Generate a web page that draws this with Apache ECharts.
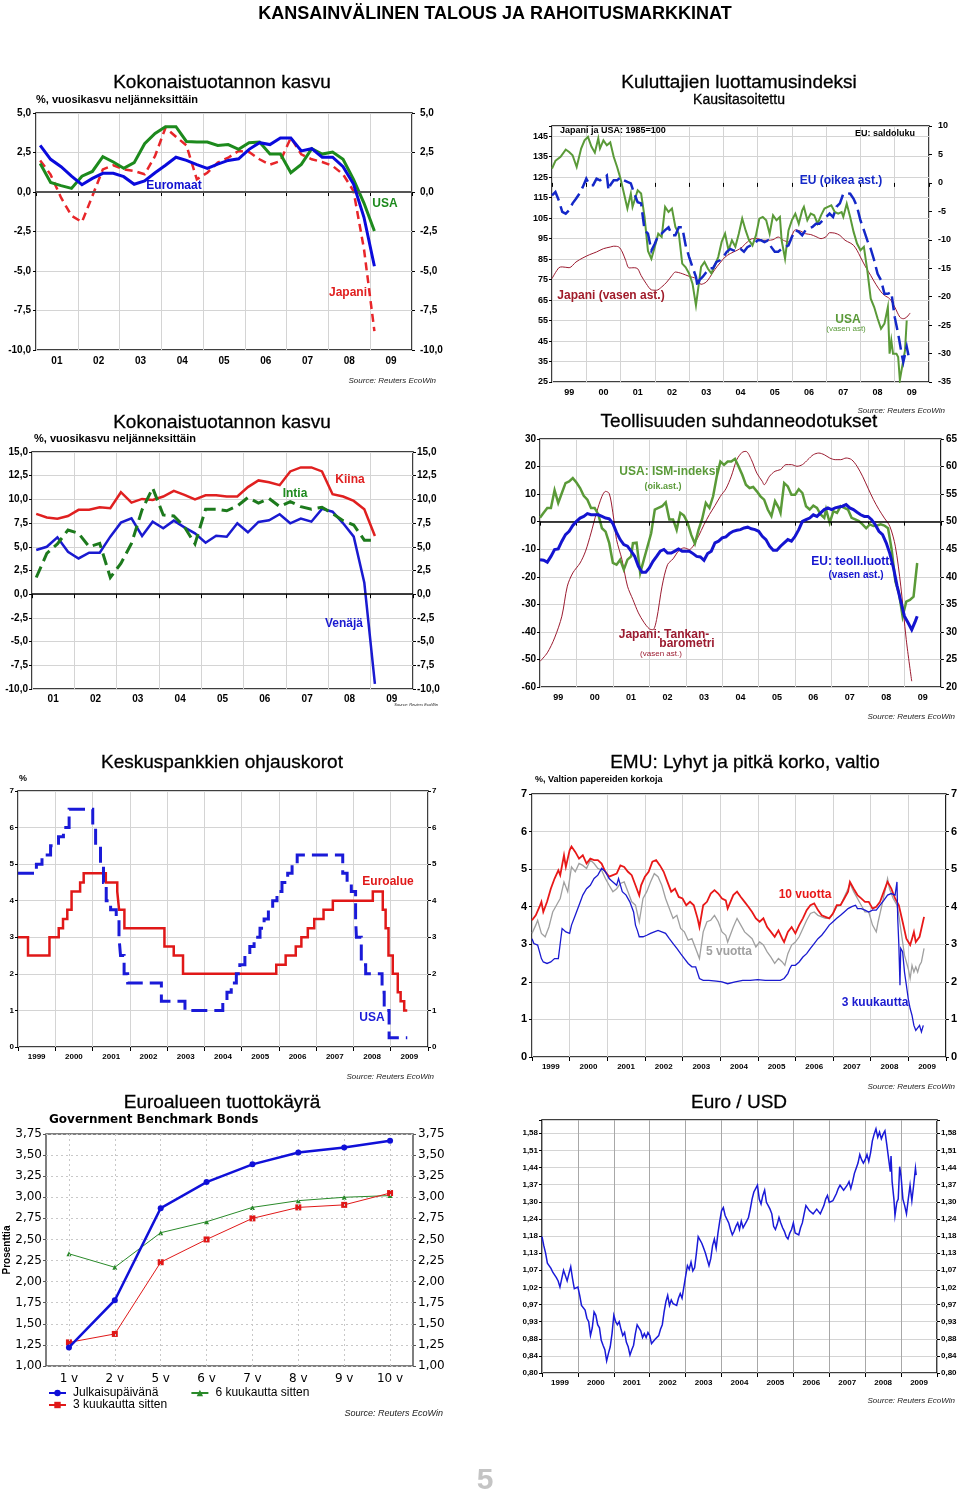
<!DOCTYPE html>
<html><head><meta charset="utf-8">
<script src="https://cdn.jsdelivr.net/npm/echarts/dist/echarts.min.js"></script>
<style>html,body{margin:0;padding:0;background:#fff}#c{width:960px;height:1494px}</style>
</head><body><div id="c"></div>
<script>
// ---------- DATA ----------
// Panel 1: GDP growth, quarterly from 2001Q1
const gdpEuromaat = [2.95,2.07,1.6,1.0,0.46,0.86,1.18,1.18,0.97,0.49,0.7,1.22,1.69,2.2,2.0,1.73,1.5,1.77,2.0,2.1,2.7,3.12,3.0,3.42,3.42,2.6,2.74,2.2,2.2,1.6,0.5,-1.6,-4.7];
const gdpUSA = [1.8,0.6,0.4,0.23,1.0,1.3,2.24,1.9,1.5,1.86,3.06,3.7,4.13,4.13,3.2,3.16,3.16,2.95,3.0,2.7,3.12,3.16,2.4,2.4,1.22,1.75,2.74,2.4,2.53,2.07,0.8,-0.7,-2.47];
const gdpJapani = [2.0,1.1,-0.36,-1.5,-1.9,-0.25,1.43,1.69,1.43,1.33,1.12,2.28,4.07,3.5,2.95,0.8,1.22,1.86,2.17,2.6,2.53,2.07,1.73,1.96,3.44,2.38,2.07,1.9,1.65,1.12,0.06,-3.6,-8.8];
// Panel 3
const gdpKiina = [8.47,8.1,7.97,8.25,8.9,8.9,9.17,9.07,10.76,9.66,10.05,9.95,10.3,10.9,10.48,10.0,10.44,10.44,10.3,10.3,11.3,12.0,11.8,11.5,12.95,13.37,13.37,12.95,10.55,10.3,9.84,8.96,6.14];
const gdpIntia = [1.76,4.3,5.3,6.77,6.42,5.0,5.36,1.76,3.25,5.36,8.9,11.2,8.36,8.25,7.1,5.3,8.96,8.96,8.8,9.3,10.2,9.6,10.1,9.24,9.77,9.24,8.96,9.17,8.5,7.76,7.3,5.7,5.7];
const gdpVenaja = [4.66,5.0,6.0,4.48,3.77,4.37,4.37,6.07,7.55,8.0,6.14,7.65,6.95,7.76,7.05,6.42,5.43,6.17,6.07,7.48,6.53,7.62,7.8,8.43,7.48,7.97,7.65,9.0,8.7,7.48,6.07,1.2,-9.45];
const gdpFirstQuarter = 2001.1;

// Panel 2: consumer confidence [decimal year, value]
const confUSA = [[1999.0,129.2],[1999.1,133],[1999.25,135],[1999.4,138.5],[1999.5,137.3],[1999.6,135.7],[1999.72,130],[1999.85,139],[1999.95,143],[2000.05,144.7],[2000.15,140],[2000.25,137],[2000.35,144],[2000.4,139],[2000.5,143],[2000.6,140.6],[2000.7,142],[2000.8,135],[2000.9,130],[2001.0,124.3],[2001.1,117],[2001.2,109.7],[2001.3,117],[2001.35,110.5],[2001.5,118.6],[2001.6,117],[2001.7,105.6],[2001.8,89],[2001.9,85.2],[2002.0,91],[2002.1,97.4],[2002.2,95.8],[2002.3,110.5],[2002.4,108],[2002.5,109.7],[2002.6,100.7],[2002.7,97.4],[2002.8,82.8],[2002.9,81],[2003.0,78],[2003.1,73],[2003.2,62.4],[2003.25,61.6],[2003.35,81.2],[2003.45,83.6],[2003.55,80.3],[2003.65,78],[2003.75,82],[2003.85,86],[2003.95,93.4],[2004.05,97.4],[2004.15,89.3],[2004.25,94.2],[2004.35,91],[2004.45,97.4],[2004.55,104.8],[2004.65,99],[2004.75,94.2],[2004.85,91.7],[2004.95,96.6],[2005.05,104.8],[2005.15,105.6],[2005.25,104],[2005.35,97.4],[2005.45,106.4],[2005.55,104],[2005.65,105.6],[2005.7,94.2],[2005.8,85.2],[2005.9,99],[2006.0,104],[2006.1,107.2],[2006.2,102.3],[2006.3,108.8],[2006.35,110.5],[2006.45,104],[2006.55,107.2],[2006.65,106.4],[2006.75,102.3],[2006.85,106.4],[2006.95,109.7],[2007.05,110.5],[2007.15,111.3],[2007.25,108],[2007.35,107.2],[2007.45,108],[2007.5,105.6],[2007.6,112],[2007.7,105.6],[2007.8,98.3],[2007.9,92.6],[2008.0,89.3],[2008.1,91],[2008.2,79.5],[2008.3,65.7],[2008.4,61.6],[2008.5,56],[2008.6,51],[2008.7,53.5],[2008.8,61.6],[2008.85,38.8],[2008.9,45.3],[2008.95,38.8],[2009.05,38.8],[2009.1,37.2],[2009.15,26],[2009.2,26.6],[2009.3,40.4],[2009.35,55]];
const confEU = [[1999.0,-2.2],[1999.1,-1.6],[1999.2,-3.1],[1999.3,-5.1],[1999.4,-5.4],[1999.5,-4.8],[1999.6,-3.6],[1999.7,-2.8],[1999.8,-1.9],[1999.9,-0.7],[2000.0,0.74],[2000.1,-0.4],[2000.2,-0.4],[2000.3,0.74],[2000.4,0.45],[2000.5,0.74],[2000.6,1.3],[2000.65,-1.3],[2000.7,-0.4],[2000.8,0.45],[2000.9,0.45],[2001.0,1.0],[2001.1,0.45],[2001.2,0.16],[2001.3,-0.1],[2001.4,-1.9],[2001.5,-3.4],[2001.6,-3.6],[2001.7,-8.3],[2001.8,-8.9],[2001.9,-11.9],[2002.0,-10.7],[2002.1,-9.2],[2002.2,-8.9],[2002.3,-8.3],[2002.4,-7.8],[2002.5,-9.2],[2002.6,-9.2],[2002.7,-7.8],[2002.8,-7.8],[2002.9,-11],[2003.0,-13],[2003.1,-14.8],[2003.2,-16.5],[2003.25,-18.3],[2003.3,-17.1],[2003.4,-16.5],[2003.5,-15.7],[2003.6,-15],[2003.7,-15],[2003.8,-13.9],[2003.9,-13.6],[2004.0,-13],[2004.1,-12.1],[2004.2,-11.6],[2004.3,-11.9],[2004.4,-11.9],[2004.5,-11.6],[2004.6,-12.1],[2004.7,-11.3],[2004.8,-11],[2004.9,-10.7],[2005.0,-10.1],[2005.1,-10.1],[2005.2,-10.4],[2005.3,-10.1],[2005.4,-11.3],[2005.5,-12.1],[2005.6,-12.1],[2005.7,-11.6],[2005.8,-11.3],[2005.9,-11],[2006.0,-9.5],[2006.1,-8.3],[2006.2,-8.6],[2006.3,-9.2],[2006.4,-8.3],[2006.5,-8],[2006.6,-7.75],[2006.7,-7.2],[2006.8,-7.2],[2006.9,-6.6],[2007.0,-6],[2007.1,-5.4],[2007.2,-6],[2007.3,-4.2],[2007.4,-3.6],[2007.5,-1.9],[2007.6,-1.8],[2007.7,-1.9],[2007.8,-2.8],[2007.9,-4.2],[2008.0,-6.6],[2008.1,-8.3],[2008.2,-10.1],[2008.3,-11.6],[2008.4,-13.6],[2008.5,-16],[2008.6,-17.1],[2008.7,-19.5],[2008.8,-19.5],[2008.9,-19.2],[2009.0,-23.6],[2009.1,-26.5],[2009.2,-30],[2009.25,-31.5],[2009.3,-31.8],[2009.35,-28.8],[2009.4,-30.3]];
const confJapani = [[1999.0,75.5],[1999.2,80.8],[1999.3,81.2],[1999.5,80.8],[1999.7,83.6],[1999.9,85.6],[2000.1,87.2],[2000.3,88.5],[2000.5,90.1],[2000.7,90.9],[2000.8,91.3],[2000.95,90.9],[2001.05,88.5],[2001.15,84.4],[2001.25,80.7],[2001.4,80.8],[2001.5,80.3],[2001.6,77],[2001.75,73],[2001.9,70],[2002.05,69.8],[2002.2,71.4],[2002.35,73.8],[2002.5,77],[2002.6,78.7],[2002.8,77.9],[2003.0,76.6],[2003.2,75.5],[2003.35,72.7],[2003.5,73.8],[2003.6,76],[2003.75,79.9],[2003.9,83.1],[2004.05,86],[2004.2,87.7],[2004.4,89.3],[2004.55,90.9],[2004.7,93.4],[2004.85,95],[2005.0,95],[2005.15,94.2],[2005.3,94.2],[2005.45,94.5],[2005.6,95.8],[2005.75,94.2],[2005.9,93.4],[2006.0,96.6],[2006.1,99.3],[2006.25,98.7],[2006.4,97.4],[2006.55,97],[2006.7,96],[2006.85,95],[2007.0,96],[2007.1,97.9],[2007.25,97.7],[2007.4,96.6],[2007.55,94.2],[2007.7,92.9],[2007.8,91.7],[2007.9,89.3],[2008.0,86],[2008.15,81.2],[2008.3,77],[2008.45,72.7],[2008.6,69],[2008.7,67.3],[2008.85,65.7],[2009.0,61.6],[2009.15,56.7],[2009.25,55.9],[2009.35,56.7],[2009.45,58.7]];

// Panel 4: industrial outlook
const indISM = [[1999.0,50.7],[1999.1,51.6],[1999.2,52.5],[1999.3,52.5],[1999.4,55.7],[1999.5,53.4],[1999.6,55.2],[1999.7,57],[1999.8,57.3],[1999.9,57.9],[2000.0,57.1],[2000.1,56.1],[2000.2,54.7],[2000.3,54],[2000.4,52.5],[2000.5,52.5],[2000.6,51.3],[2000.7,48.8],[2000.8,48.2],[2000.9,46.1],[2001.0,42.5],[2001.1,42.2],[2001.2,43.1],[2001.3,41.3],[2001.4,43.1],[2001.5,43.7],[2001.55,46.1],[2001.65,46.2],[2001.75,40.7],[2001.85,43.1],[2001.95,45.5],[2002.05,47.9],[2002.15,52.2],[2002.25,52.5],[2002.35,52.8],[2002.45,53.5],[2002.55,50.4],[2002.65,50.4],[2002.75,48.5],[2002.85,51.6],[2002.95,51.1],[2003.05,49.8],[2003.15,47.6],[2003.25,46],[2003.35,48.5],[2003.45,50.5],[2003.55,53.4],[2003.65,52.5],[2003.75,54.6],[2003.85,58.2],[2003.95,60.9],[2004.05,60.3],[2004.15,60.9],[2004.25,60.9],[2004.35,61.4],[2004.45,60],[2004.55,58.5],[2004.65,56.7],[2004.75,56.1],[2004.85,56.3],[2004.95,55.5],[2005.05,54.6],[2005.15,54],[2005.25,52.2],[2005.35,51],[2005.45,53.7],[2005.55,52.5],[2005.6,51.6],[2005.7,57],[2005.8,56.4],[2005.9,54.9],[2006.0,54.9],[2006.1,55.9],[2006.2,55.2],[2006.3,52.8],[2006.4,52.2],[2006.5,52.9],[2006.6,52.5],[2006.7,51.3],[2006.8,50.7],[2006.85,52.2],[2006.95,49.8],[2007.05,51.9],[2007.15,51.6],[2007.25,52.8],[2007.35,52.5],[2007.45,52.2],[2007.55,50.7],[2007.65,50.4],[2007.75,50.1],[2007.85,49.5],[2007.95,48.8],[2008.05,49.5],[2008.15,49.2],[2008.25,49.3],[2008.35,49.5],[2008.45,49.3],[2008.55,48.8],[2008.65,44.9],[2008.75,39.2],[2008.85,37],[2008.95,32.8],[2009.05,35.5],[2009.15,35.8],[2009.25,36.4],[2009.35,42.5]];
const indEU = [[1999.0,-13.8],[1999.1,-14],[1999.2,-14.7],[1999.3,-12.6],[1999.4,-10.1],[1999.5,-9.9],[1999.6,-7.1],[1999.7,-4.7],[1999.8,-3.5],[1999.9,-1.4],[2000.0,0.1],[2000.1,1.3],[2000.2,1.9],[2000.3,2.9],[2000.4,2.5],[2000.5,2.5],[2000.6,2.5],[2000.7,1.9],[2000.8,1.3],[2000.9,1.0],[2001.0,-0.7],[2001.1,-3.9],[2001.2,-6.5],[2001.3,-8.3],[2001.4,-8.9],[2001.5,-10.7],[2001.6,-12.6],[2001.7,-16.2],[2001.8,-18.4],[2001.9,-18.4],[2002.0,-16.8],[2002.1,-14.4],[2002.2,-12.6],[2002.3,-10.7],[2002.4,-10.1],[2002.5,-11.4],[2002.6,-11.4],[2002.7,-10.7],[2002.8,-9.9],[2002.9,-10.7],[2003.0,-10.7],[2003.1,-10.7],[2003.2,-11.6],[2003.3,-12.6],[2003.4,-12.8],[2003.5,-14],[2003.6,-11.6],[2003.7,-10.7],[2003.8,-7.7],[2003.9,-7.1],[2004.0,-5.9],[2004.1,-5.5],[2004.2,-4.3],[2004.3,-3.5],[2004.4,-3.1],[2004.5,-2.9],[2004.6,-2.3],[2004.7,-2],[2004.8,-2.6],[2004.9,-2.9],[2005.0,-3.5],[2005.1,-5.3],[2005.2,-6.5],[2005.3,-8.9],[2005.4,-10.4],[2005.5,-10.4],[2005.6,-8.9],[2005.7,-7.7],[2005.8,-6.5],[2005.9,-7.1],[2006.0,-5.3],[2006.1,-2.9],[2006.2,0.1],[2006.3,0.7],[2006.4,1.3],[2006.5,2.5],[2006.6,1.9],[2006.7,3.2],[2006.8,4.4],[2006.9,5.0],[2007.0,4.4],[2007.1,5.0],[2007.2,5.3],[2007.3,5.6],[2007.4,6.2],[2007.5,5.0],[2007.6,4.4],[2007.7,3.4],[2007.8,2.5],[2007.9,1.9],[2008.0,1.9],[2008.1,0.7],[2008.2,-1.1],[2008.3,-3.5],[2008.4,-4.7],[2008.5,-7.7],[2008.6,-11.6],[2008.7,-16.8],[2008.8,-23.4],[2008.9,-28.9],[2009.0,-34.3],[2009.1,-36.7],[2009.2,-39.2],[2009.3,-36.1],[2009.35,-34.3]];
const indTankan = [[1999.0,-50.7],[1999.2,-47.6],[1999.4,-42.2],[1999.6,-34.3],[1999.75,-23.4],[1999.9,-18.6],[2000.1,-15],[2000.25,-10.7],[2000.4,-4.1],[2000.55,3.2],[2000.7,9.2],[2000.8,11],[2000.9,10.2],[2001.0,3.2],[2001.1,-6.5],[2001.25,-13.8],[2001.4,-23.4],[2001.55,-28.3],[2001.7,-33.1],[2001.85,-36.5],[2002.0,-38.9],[2002.1,-39.2],[2002.2,-35.5],[2002.35,-23.4],[2002.5,-15.6],[2002.65,-13.5],[2002.8,-10.7],[2002.95,-9.5],[2003.1,-10.1],[2003.2,-8.9],[2003.35,-5.3],[2003.5,-1.1],[2003.65,2.6],[2003.8,5.8],[2003.95,9.2],[2004.1,11.9],[2004.25,16.5],[2004.4,22.5],[2004.55,25.2],[2004.65,25.5],[2004.8,22.5],[2004.95,17.6],[2005.1,14.6],[2005.15,13.4],[2005.3,16.5],[2005.45,18.3],[2005.6,18.9],[2005.75,20.7],[2005.9,20.7],[2006.05,20.1],[2006.2,20.7],[2006.35,22.5],[2006.5,24.3],[2006.65,24.9],[2006.8,24.3],[2006.95,23.1],[2007.1,22.5],[2007.25,22.5],[2007.4,23.1],[2007.55,22.5],[2007.7,20.1],[2007.85,16.5],[2008.0,12.2],[2008.15,8],[2008.3,4.4],[2008.45,1.3],[2008.6,-1.7],[2008.75,-8.9],[2008.9,-23.4],[2009.05,-42.8],[2009.2,-57.9]];

// Panel 5: policy rates (change dates, new levels)
const ecbDates = ['1999-01-01','1999-04-09','1999-11-05','2000-02-04','2000-03-17','2000-04-28','2000-06-09','2000-09-01','2000-10-06','2001-05-11','2001-08-31','2001-09-18','2001-11-09','2002-12-06','2003-03-07','2003-06-06','2005-12-06','2006-03-08','2006-06-15','2006-08-09','2006-10-11','2006-12-13','2007-03-14','2007-06-13','2008-07-09','2008-10-15','2008-11-12','2008-12-10','2009-01-21','2009-03-11','2009-04-08','2009-05-13','2009-06-12'];
const ecbRates = [3.0,2.5,3.0,3.25,3.5,3.75,4.25,4.5,4.75,4.5,4.25,3.75,3.25,2.75,2.5,2.0,2.25,2.5,2.75,3.0,3.25,3.5,3.75,4.0,4.25,3.75,3.25,2.5,2.0,1.5,1.25,1.0,1.0];
const fedDates = ['1999-01-01','1999-06-30','1999-08-24','1999-11-16','2000-02-02','2000-03-21','2000-05-16','2001-01-03','2001-01-31','2001-03-20','2001-04-18','2001-05-15','2001-06-27','2001-08-21','2001-09-17','2001-10-02','2001-11-06','2001-12-11','2002-11-06','2003-06-25','2004-06-30','2004-08-10','2004-09-21','2004-11-10','2004-12-14','2005-02-02','2005-03-22','2005-05-03','2005-06-30','2005-08-09','2005-09-20','2005-11-01','2005-12-13','2006-01-31','2006-03-28','2006-05-10','2006-06-29','2007-09-18','2007-10-31','2007-12-11','2008-01-22','2008-01-30','2008-03-18','2008-04-30','2008-10-08','2008-10-29','2008-12-16','2009-06-12'];
const fedRates = [4.75,5.0,5.25,5.5,5.75,6.0,6.5,6.0,5.5,5.0,4.5,4.0,3.75,3.5,3.0,2.5,2.0,1.75,1.25,1.0,1.25,1.5,1.75,2.0,2.25,2.5,2.75,3.0,3.25,3.5,3.75,4.0,4.25,4.5,4.75,5.0,5.25,4.75,4.5,4.25,3.5,3.0,2.25,2.0,1.5,1.0,0.25,0.25];

// Panel 6: EMU yields
const emu10y = [[1999.0,3.64],[1999.1,3.77],[1999.2,4.0],[1999.25,4.13],[1999.3,3.86],[1999.4,4.13],[1999.5,4.48],[1999.6,4.75],[1999.7,4.97],[1999.75,4.84],[1999.85,5.37],[1999.9,5.06],[2000.0,5.5],[2000.05,5.6],[2000.15,5.46],[2000.25,5.28],[2000.35,5.37],[2000.45,5.15],[2000.55,5.28],[2000.65,5.24],[2000.75,5.24],[2000.85,5.15],[2000.95,4.93],[2001.05,4.8],[2001.15,4.84],[2001.25,4.88],[2001.35,5.1],[2001.45,5.06],[2001.55,4.93],[2001.65,4.84],[2001.75,4.57],[2001.85,4.3],[2001.9,4.57],[2002.0,4.8],[2002.1,4.93],[2002.2,5.2],[2002.3,5.24],[2002.4,5.1],[2002.5,4.93],[2002.6,4.66],[2002.7,4.4],[2002.8,4.48],[2002.9,4.26],[2003.0,4.22],[2003.1,4.04],[2003.2,4.13],[2003.3,4.04],[2003.4,3.69],[2003.45,3.46],[2003.55,4.04],[2003.65,4.13],[2003.75,4.35],[2003.85,4.44],[2003.95,4.35],[2004.05,4.22],[2004.15,4.17],[2004.2,3.95],[2004.35,4.31],[2004.45,4.4],[2004.55,4.26],[2004.65,4.13],[2004.75,4.0],[2004.85,3.86],[2004.95,3.69],[2005.05,3.6],[2005.15,3.69],[2005.25,3.46],[2005.35,3.33],[2005.45,3.2],[2005.55,3.37],[2005.65,3.15],[2005.7,3.06],[2005.8,3.33],[2005.9,3.46],[2006.0,3.29],[2006.1,3.51],[2006.2,3.69],[2006.3,3.91],[2006.4,4.04],[2006.5,4.09],[2006.6,3.91],[2006.7,3.77],[2006.8,3.73],[2006.9,3.69],[2007.0,3.82],[2007.1,4.04],[2007.2,4.04],[2007.3,4.22],[2007.4,4.4],[2007.45,4.66],[2007.55,4.48],[2007.65,4.31],[2007.75,4.22],[2007.85,4.13],[2007.95,4.13],[2008.05,3.95],[2008.15,4.0],[2008.25,4.13],[2008.35,4.4],[2008.45,4.66],[2008.55,4.48],[2008.65,4.22],[2008.75,4.04],[2008.85,3.6],[2008.95,3.15],[2009.05,2.98],[2009.1,3.15],[2009.15,3.33],[2009.2,3.06],[2009.25,3.11],[2009.3,3.2],[2009.35,3.42],[2009.42,3.73]];
const emu5y = [[1999.0,3.29],[1999.1,3.51],[1999.15,3.64],[1999.25,3.29],[1999.35,3.2],[1999.45,3.46],[1999.55,3.86],[1999.65,4.04],[1999.75,4.22],[1999.85,4.66],[1999.95,4.4],[2000.05,5.06],[2000.15,4.93],[2000.25,5.15],[2000.35,5.1],[2000.45,5.02],[2000.55,5.24],[2000.65,5.15],[2000.75,5.02],[2000.85,4.97],[2000.95,4.75],[2001.05,4.57],[2001.15,4.4],[2001.25,4.48],[2001.35,4.62],[2001.45,4.66],[2001.55,4.4],[2001.65,4.13],[2001.75,4.04],[2001.85,3.6],[2001.95,4.22],[2002.05,4.4],[2002.15,4.66],[2002.25,4.88],[2002.35,4.8],[2002.45,4.57],[2002.55,4.22],[2002.65,3.95],[2002.75,3.69],[2002.85,3.77],[2002.95,3.42],[2003.05,3.33],[2003.15,3.11],[2003.25,3.15],[2003.35,2.89],[2003.45,2.62],[2003.55,3.33],[2003.65,3.6],[2003.75,3.64],[2003.85,3.77],[2003.95,3.6],[2004.05,3.33],[2004.15,3.24],[2004.2,3.06],[2004.35,3.46],[2004.45,3.69],[2004.55,3.51],[2004.65,3.33],[2004.75,3.24],[2004.85,3.15],[2004.95,2.93],[2005.05,3.06],[2005.15,2.98],[2005.25,2.8],[2005.35,2.66],[2005.45,2.49],[2005.55,2.62],[2005.65,2.53],[2005.72,2.44],[2005.8,2.75],[2005.9,2.98],[2006.0,3.06],[2006.1,3.2],[2006.2,3.42],[2006.3,3.64],[2006.4,3.82],[2006.5,3.86],[2006.6,3.77],[2006.7,3.73],[2006.8,3.69],[2006.9,3.69],[2007.0,3.82],[2007.1,4.0],[2007.2,4.04],[2007.3,4.26],[2007.4,4.48],[2007.45,4.62],[2007.55,4.4],[2007.65,4.22],[2007.75,4.04],[2007.85,3.86],[2007.95,3.86],[2008.05,3.51],[2008.15,3.33],[2008.2,3.6],[2008.3,4.04],[2008.45,4.75],[2008.5,4.48],[2008.6,4.22],[2008.7,4.04],[2008.75,3.77],[2008.85,3.06],[2008.9,2.71],[2009.0,2.35],[2009.05,2.09],[2009.1,2.44],[2009.15,2.26],[2009.2,2.4],[2009.25,2.26],[2009.3,2.44],[2009.35,2.53],[2009.42,2.89]];
const emu3m = [[1999.0,3.15],[1999.05,3.02],[1999.15,2.98],[1999.2,2.93],[1999.25,2.62],[1999.3,2.53],[1999.4,2.49],[1999.5,2.53],[1999.6,2.62],[1999.7,2.62],[1999.75,3.02],[1999.8,3.42],[1999.9,3.33],[2000.0,3.29],[2000.05,3.51],[2000.15,3.77],[2000.25,4.04],[2000.35,4.31],[2000.45,4.48],[2000.55,4.57],[2000.65,4.75],[2000.75,4.84],[2000.85,5.02],[2000.95,4.93],[2001.05,4.75],[2001.15,4.66],[2001.25,4.57],[2001.3,4.75],[2001.4,4.4],[2001.5,4.31],[2001.6,4.13],[2001.7,3.86],[2001.75,3.51],[2001.8,3.37],[2001.85,3.2],[2001.95,3.2],[2002.05,3.24],[2002.15,3.29],[2002.25,3.33],[2002.35,3.37],[2002.45,3.33],[2002.55,3.29],[2002.65,3.15],[2002.75,3.02],[2002.85,2.89],[2002.95,2.75],[2003.05,2.62],[2003.15,2.49],[2003.25,2.4],[2003.35,2.4],[2003.45,2.09],[2003.55,2.04],[2003.7,2.04],[2003.9,2.02],[2004.05,2.0],[2004.2,1.95],[2004.4,2.0],[2004.6,2.04],[2004.8,2.04],[2005.0,2.06],[2005.2,2.04],[2005.4,2.04],[2005.6,2.04],[2005.7,2.09],[2005.8,2.22],[2005.85,2.35],[2005.9,2.44],[2006.0,2.44],[2006.1,2.53],[2006.2,2.66],[2006.3,2.75],[2006.4,2.89],[2006.5,3.02],[2006.6,3.15],[2006.7,3.24],[2006.8,3.37],[2006.9,3.51],[2007.0,3.6],[2007.1,3.69],[2007.2,3.77],[2007.3,3.86],[2007.4,3.95],[2007.5,4.0],[2007.6,4.04],[2007.65,3.95],[2007.75,3.95],[2007.85,3.91],[2007.95,3.86],[2008.05,3.91],[2008.15,3.91],[2008.25,4.04],[2008.35,4.17],[2008.45,4.31],[2008.55,4.35],[2008.65,4.31],[2008.7,4.66],[2008.72,3.69],[2008.75,2.98],[2008.78,1.91],[2008.8,2.89],[2008.85,2.8],[2008.9,2.26],[2008.95,1.91],[2009.0,1.55],[2009.05,1.29],[2009.1,1.11],[2009.15,0.84],[2009.2,0.71],[2009.25,0.75],[2009.3,0.84],[2009.35,0.67],[2009.4,0.84]];

// Panel 7: yield curve
const ycMaturities = ['1 v','2 v','5 v','6 v','7 v','8 v','9 v','10 v'];
const ycNow = [1.22,1.78,2.87,3.18,3.39,3.53,3.59,3.67];
const yc3m = [1.28,1.38,2.23,2.5,2.75,2.88,2.91,3.05];
const yc6m = [2.33,2.17,2.58,2.71,2.88,2.96,3.0,3.02];

// Panel 8: EUR/USD
const eurusd = [[1999.0,1.18],[1999.05,1.15],[1999.1,1.126],[1999.15,1.094],[1999.2,1.088],[1999.25,1.078],[1999.3,1.066],[1999.35,1.072],[1999.4,1.05],[1999.45,1.04],[1999.5,1.022],[1999.55,1.047],[1999.6,1.072],[1999.65,1.056],[1999.7,1.04],[1999.75,1.062],[1999.8,1.083],[1999.85,1.047],[1999.9,1.017],[2000.0,1.022],[2000.05,0.998],[2000.1,0.97],[2000.15,0.97],[2000.2,0.957],[2000.25,0.935],[2000.3,0.926],[2000.35,0.89],[2000.4,0.91],[2000.45,0.952],[2000.5,0.943],[2000.55,0.918],[2000.6,0.91],[2000.65,0.878],[2000.7,0.866],[2000.75,0.855],[2000.8,0.828],[2000.85,0.846],[2000.9,0.862],[2000.95,0.895],[2001.0,0.943],[2001.05,0.926],[2001.1,0.918],[2001.15,0.926],[2001.2,0.906],[2001.25,0.89],[2001.3,0.898],[2001.35,0.873],[2001.4,0.862],[2001.45,0.842],[2001.5,0.855],[2001.55,0.866],[2001.6,0.895],[2001.65,0.918],[2001.7,0.91],[2001.75,0.902],[2001.8,0.885],[2001.85,0.895],[2001.9,0.885],[2001.95,0.898],[2002.0,0.89],[2002.05,0.87],[2002.1,0.873],[2002.15,0.881],[2002.2,0.878],[2002.25,0.89],[2002.3,0.906],[2002.35,0.918],[2002.4,0.952],[2002.45,0.98],[2002.5,0.998],[2002.55,0.97],[2002.6,0.985],[2002.65,0.975],[2002.7,0.98],[2002.75,0.97],[2002.8,0.99],[2002.85,1.003],[2002.9,0.99],[2002.95,1.022],[2003.0,1.054],[2003.05,1.086],[2003.1,1.075],[2003.15,1.097],[2003.2,1.07],[2003.25,1.08],[2003.3,1.126],[2003.35,1.18],[2003.4,1.186],[2003.45,1.158],[2003.5,1.142],[2003.55,1.126],[2003.6,1.12],[2003.65,1.086],[2003.7,1.108],[2003.75,1.15],[2003.8,1.172],[2003.85,1.142],[2003.9,1.192],[2003.95,1.233],[2004.0,1.27],[2004.05,1.282],[2004.1,1.253],[2004.15,1.259],[2004.2,1.227],[2004.25,1.204],[2004.3,1.186],[2004.35,1.198],[2004.4,1.215],[2004.45,1.227],[2004.5,1.204],[2004.55,1.233],[2004.6,1.21],[2004.65,1.215],[2004.7,1.233],[2004.75,1.246],[2004.8,1.276],[2004.85,1.313],[2004.9,1.34],[2004.95,1.353],[2005.0,1.366],[2005.05,1.313],[2005.1,1.295],[2005.15,1.327],[2005.2,1.347],[2005.25,1.301],[2005.3,1.289],[2005.35,1.276],[2005.4,1.259],[2005.45,1.215],[2005.5,1.204],[2005.55,1.222],[2005.6,1.246],[2005.65,1.227],[2005.7,1.21],[2005.75,1.198],[2005.8,1.18],[2005.85,1.172],[2005.9,1.192],[2005.95,1.204],[2006.0,1.227],[2006.05,1.192],[2006.1,1.198],[2006.15,1.186],[2006.2,1.21],[2006.25,1.227],[2006.3,1.259],[2006.35,1.289],[2006.4,1.282],[2006.45,1.27],[2006.5,1.276],[2006.55,1.259],[2006.6,1.265],[2006.65,1.276],[2006.7,1.27],[2006.75,1.259],[2006.8,1.265],[2006.85,1.289],[2006.9,1.313],[2006.95,1.327],[2007.0,1.301],[2007.05,1.295],[2007.1,1.307],[2007.15,1.313],[2007.2,1.334],[2007.25,1.353],[2007.3,1.366],[2007.35,1.36],[2007.4,1.347],[2007.45,1.34],[2007.5,1.366],[2007.55,1.38],[2007.6,1.353],[2007.65,1.38],[2007.7,1.413],[2007.75,1.434],[2007.8,1.455],[2007.85,1.491],[2007.9,1.469],[2007.95,1.455],[2008.0,1.469],[2008.05,1.491],[2008.1,1.462],[2008.15,1.498],[2008.2,1.55],[2008.25,1.58],[2008.3,1.604],[2008.35,1.566],[2008.4,1.589],[2008.45,1.559],[2008.5,1.58],[2008.55,1.595],[2008.6,1.536],[2008.65,1.476],[2008.7,1.42],[2008.72,1.484],[2008.75,1.38],[2008.8,1.313],[2008.83,1.253],[2008.88,1.301],[2008.92,1.313],[2008.96,1.44],[2009.0,1.40],[2009.05,1.313],[2009.1,1.289],[2009.15,1.259],[2009.2,1.313],[2009.25,1.366],[2009.3,1.307],[2009.35,1.366],[2009.4,1.434],[2009.42,1.406]];
const eurusdBase = 0.80, eurusdStep = 1.05; // log-scale tick ratio

// ---------- BUILD ----------
const F = "'Liberation Sans', Arial, sans-serif";
const TF = "'Liberation Sans', Arial, sans-serif";
const option = {animation:false, backgroundColor:'#fff', textStyle:{fontFamily:F},
  grid:[], xAxis:[], yAxis:[], series:[], graphic:[], legend:[]};
const comma1 = v => v.toFixed(1).replace('.', ',');
const comma2 = v => v.toFixed(2).replace('.', ',');

function addGrid(l,t,w,h){option.grid.push({left:l,top:t,width:w,height:h,show:true,borderColor:'#000',borderWidth:1.5,backgroundColor:'#fff'});return option.grid.length-1;}
function yearAxes(gi,y0,y1,fmt,fs,margin,vcolor){
  const idx=option.xAxis.length;
  option.xAxis.push({gridIndex:gi,type:'value',position:'bottom',min:y0,max:y1,interval:1,axisLine:{show:false},
    axisTick:{show:true,inside:false,length:4,lineStyle:{color:'#000',width:1}},axisLabel:{show:false},
    splitLine:{show:true,lineStyle:{color:vcolor||'#d4d4d4',width:1}}});
  option.xAxis.push({gridIndex:gi,type:'value',position:'bottom',offset:0,min:y0,max:y1,interval:0.5,axisLine:{show:false},axisTick:{show:false},
    splitLine:{show:false},axisLabel:{show:true,margin,fontSize:fs,fontWeight:'bold',fontFamily:F,color:'#000',
    formatter:v=>Math.abs(v-Math.floor(v)-0.5)<1e-6?fmt(Math.floor(v)):''}});
  return idx;
}
function addY(gi,pos,min,max,interval,fmt,fs,margin,split,labelExtra){
  option.yAxis.push({gridIndex:gi,type:'value',position:pos,min,max,interval,axisLine:{show:false},
    axisTick:{show:true,length:3,lineStyle:{color:'#000'}},
    axisLabel:Object.assign({margin,fontSize:fs,fontWeight:'bold',fontFamily:F,color:'#000',formatter:fmt},labelExtra||{}),
    splitLine:{show:split,lineStyle:{color:'#d4d4d4',width:1}}});
  return option.yAxis.length-1;
}
function line(name,xi,yi,data,color,width,dash,extra){
  option.series.push(Object.assign({name,type:'line',xAxisIndex:xi,yAxisIndex:yi,data,symbol:'none',showSymbol:false,
    lineStyle:{color,width,type:dash||'solid',cap:'butt',join:'miter'},itemStyle:{color},silent:true,z:3},extra||{}));
}
function txt(x,y,text,st){option.graphic.push({type:'text',x,y,silent:true,z:100,
  style:Object.assign({text,fill:'#000',fontFamily:F,fontSize:10,fontWeight:'normal',align:'left',verticalAlign:'middle'},st||{})});}
function title(x,y,t,fs){txt(x,y,t,{fontFamily:TF,fontSize:fs||19,align:'center',fill:'#000',stroke:'#000',lineWidth:0.3});}
function source(x,y,fs){txt(x,y,'Source: Reuters EcoWin',{fontSize:fs||8,fontStyle:'italic',align:'right',fill:'#222'});}
const zeroLine = (c,w)=>({silent:true,symbol:'none',label:{show:false},data:[{yAxis:0}],lineStyle:{color:c,width:w,type:'solid'}});
const quarters = arr => arr.map((v,i)=>[gdpFirstQuarter+i*0.25,v]);
const yy2 = y => String(y).slice(2);

// page
txt(495,14,'KANSAINVÄLINEN TALOUS JA RAHOITUSMARKKINAT',{fontSize:18,fontWeight:'bold',align:'center'});
txt(485,1481,'5',{fontSize:30,fontWeight:'bold',align:'center',fill:'#c4c4c4'});

// ---- Panel 1 ----
{
  const g=addGrid(36,113,376,237);
  const xa=yearAxes(g,2001,2010,yy2,10,6);
  const yl=addY(g,'left',-10,5,2.5,comma1,10,5,true);
  addY(g,'right',-10,5,2.5,comma1,10,8,false);
  line('Japani',xa,yl,quarters(gdpJapani),'#e8262a',2.5,[8,5]);
  line('USA',xa,yl,quarters(gdpUSA),'#1d8a1d',3,'solid',{z:4});
  line('Euromaat',xa,yl,quarters(gdpEuromaat),'#0a0adc',3,'solid',{z:5,markLine:zeroLine('#555',2)});
  title(222,83,'Kokonaistuotannon kasvu');
  txt(36,100,'%, vuosikasvu neljänneksittäin',{fontSize:11,fontWeight:'bold'});
  txt(174,186,'Euromaat',{fontSize:12,fontWeight:'bold',fill:'#1010d0',align:'center'});
  txt(385,204,'USA',{fontSize:12,fontWeight:'bold',fill:'#1d8a1d',align:'center'});
  txt(348,293,'Japani',{fontSize:12,fontWeight:'bold',fill:'#e02020',align:'center'});
  source(436,381,8);
}
// ---- Panel 2 ----
{
  const g=addGrid(552,126,377,256);
  const xa=yearAxes(g,1999,2010,yy2,9,6);
  const yl=addY(g,'left',25,150,10,v=>((v-25)%10===0?String(v):''),9,4,true);
  const yr=addY(g,'right',-35,10,5,v=>String(v),9,9,false);
  line('Japani (vasen ast.)',xa,yl,confJapani,'#9b1b30',1,'solid',{smooth:0.3});
  line('USA (vasen ast)',xa,yl,confUSA,'#5a9a38',2,'solid',{z:4});
  line('EU (oikea ast.)',xa,yr,confEU,'#1428c8',2.5,[14,6],{z:5});
  title(739,83,'Kuluttajien luottamusindeksi');
  title(739,100,'Kausitasoitettu',14);
  txt(560,131,'Japani ja USA: 1985=100',{fontSize:9,fontWeight:'bold'});
  txt(855,134,'EU: saldoluku',{fontSize:9,fontWeight:'bold'});
  txt(841,181,'EU (oikea ast.)',{fontSize:12,fontWeight:'bold',fill:'#1428c8',align:'center'});
  txt(611,296,'Japani (vasen ast.)',{fontSize:12,fontWeight:'bold',fill:'#a01c2a',align:'center'});
  txt(848,320,'USA',{fontSize:12,fontWeight:'bold',fill:'#5a9a38',align:'center'});
  txt(846,329,'(vasen ast)',{fontSize:8,fill:'#5a9a38',align:'center'});
  source(945,411,8);
}
// ---- Panel 3 ----
{
  const g=addGrid(32,452,381,237);
  const xa=yearAxes(g,2001,2010,yy2,10,5);
  const yl=addY(g,'left',-10,15,2.5,comma1,10,4,true);
  addY(g,'right',-10,15,2.5,comma1,10,4,false);
  line('Venäjä',xa,yl,quarters(gdpVenaja),'#1a1ad0',2.5,'solid',{z:4,markLine:zeroLine('#000',1.5)});
  line('Intia',xa,yl,quarters(gdpIntia),'#1d7a1d',3,[12,6],{z:5});
  line('Kiina',xa,yl,quarters(gdpKiina),'#e02020',2.5,'solid',{z:3});
  title(222,423,'Kokonaistuotannon kasvu');
  txt(34,439,'%, vuosikasvu neljänneksittäin',{fontSize:11,fontWeight:'bold'});
  txt(350,480,'Kiina',{fontSize:12,fontWeight:'bold',fill:'#e02020',align:'center'});
  txt(295,494,'Intia',{fontSize:12,fontWeight:'bold',fill:'#1d8a1d',align:'center'});
  txt(344,624,'Venäjä',{fontSize:12,fontWeight:'bold',fill:'#1a1ad0',align:'center'});
  source(438,705,4);
}
// ---- Panel 4 ----
{
  const g=addGrid(540,439,402,248);
  const xa=yearAxes(g,1999,2010,yy2,9,6);
  const yl=addY(g,'left',-60,30,10,v=>String(v),10,4,true);
  const yr=addY(g,'right',20,65,5,v=>String(v),10,5,false);
  line('Japani: Tankan',xa,yl,indTankan,'#9b1b30',1,'solid',{smooth:0.3,markLine:zeroLine('#000',1.5)});
  line('USA: ISM-indeksi',xa,yr,indISM,'#5a9a38',2.5,'solid',{z:4});
  line('EU: teoll.luott.',xa,yl,indEU,'#1414d0',3,'solid',{z:5});
  title(739,422,'Teollisuuden suhdanneodotukset');
  txt(669,472,'USA: ISM-indeksi',{fontSize:12,fontWeight:'bold',fill:'#5a9a38',align:'center'});
  txt(663,487,'(oik.ast.)',{fontSize:9,fontWeight:'bold',fill:'#5a9a38',align:'center'});
  txt(852,562,'EU: teoll.luott.',{fontSize:12,fontWeight:'bold',fill:'#1414d0',align:'center'});
  txt(856,575,'(vasen ast.)',{fontSize:10,fontWeight:'bold',fill:'#1414d0',align:'center'});
  txt(664,635,'Japani: Tankan-',{fontSize:12,fontWeight:'bold',fill:'#9b1b30',align:'center'});
  txt(687,644,'barometri',{fontSize:12,fontWeight:'bold',fill:'#9b1b30',align:'center'});
  txt(661,654,'(vasen ast.)',{fontSize:8,fill:'#9b1b30',align:'center'});
  source(955,717,8);
}
// ---- Panel 5 ----
{
  const dy = s => {const d=Date.parse(s+'T00:00:00Z');const y=+s.slice(0,4);const a=Date.UTC(y,0,1),b=Date.UTC(y+1,0,1);return y+(d-a)/(b-a);};
  const g=addGrid(18,791,410,256);
  const xa=yearAxes(g,1999,2010,y=>String(y),8,6);
  const yl=addY(g,'left',0,7,1,v=>String(v),8,4,true);
  addY(g,'right',0,7,1,v=>String(v),8,4,false);
  line('Euroalue',xa,yl,ecbDates.map((d,i)=>[dy(d),ecbRates[i]]),'#e01818',2.5,'solid',{step:'end',z:3});
  line('USA (Fed)',xa,yl,fedDates.map((d,i)=>[dy(d),fedRates[i]]),'#1a1ad8',3,[16,7],{step:'end',z:4});
  title(222,763,'Keskuspankkien ohjauskorot');
  txt(19,779,'%',{fontSize:9,fontWeight:'bold'});
  txt(388,882,'Euroalue',{fontSize:12,fontWeight:'bold',fill:'#e01818',align:'center'});
  txt(372,1018,'USA',{fontSize:12,fontWeight:'bold',fill:'#1a1ad8',align:'center'});
  source(434,1077,8);
}
// ---- Panel 6 ----
{
  const g=addGrid(532,794,415,263);
  const xa=yearAxes(g,1999,2010,y=>String(y),8,6);
  const yl=addY(g,'left',0,7,1,v=>String(v),11,5,true);
  addY(g,'right',0,7,1,v=>String(v),11,5,false);
  line('5 vuotta',xa,yl,emu5y,'#a0a0a0',1.3,'solid',{z:3});
  line('10 vuotta',xa,yl,emu10y,'#e81818',1.8,'solid',{z:4});
  line('3 kuukautta',xa,yl,emu3m,'#1a1ad0',1.3,'solid',{z:5});
  title(745,763,'EMU: Lyhyt ja pitkä korko, valtio');
  txt(535,780,'%, Valtion papereiden korkoja',{fontSize:9,fontWeight:'bold'});
  txt(805,895,'10 vuotta',{fontSize:12,fontWeight:'bold',fill:'#e81818',align:'center'});
  txt(729,952,'5 vuotta',{fontSize:12,fontWeight:'bold',fill:'#a0a0a0',align:'center'});
  txt(875,1003,'3 kuukautta',{fontSize:12,fontWeight:'bold',fill:'#1a1ad0',align:'center'});
  source(955,1087,8);
}
// ---- Panel 7 ----
{
  const VF = "'DejaVu Sans', Verdana, sans-serif";
  const g=addGrid(46,1134,367,232);
  option.grid[g].borderWidth=1.5; option.grid[g].borderColor='#555';
  const xi=option.xAxis.length;
  option.xAxis.push({gridIndex:g,type:'category',position:'bottom',data:ycMaturities,boundaryGap:true,axisLine:{show:false},
    axisTick:{show:false},splitLine:{show:false},axisLabel:{margin:7,fontSize:12,fontFamily:VF,color:'#000'}});
  const mk = (pos,m)=>({gridIndex:g,type:'value',position:pos,min:1,max:3.75,interval:0.25,axisLine:{show:false},axisTick:{show:true,length:3,lineStyle:{color:'#555'}},
    axisLabel:{margin:m,fontSize:12,fontFamily:VF,color:'#000',formatter:comma2},
    splitLine:{show:pos==='left',lineStyle:{color:'#c8c8c8',type:[2,3],width:1}}});
  option.yAxis.push(mk('left',4)); const yl=option.yAxis.length-1;
  option.yAxis.push(mk('right',5));
  line('6 kuukautta sitten',xi,yl,yc6m,'#2a8a2a',1,'solid',{symbol:'triangle',symbolSize:5,showSymbol:true,z:3,
    markLine:{silent:true,symbol:'none',label:{show:false},lineStyle:{color:'#c8c8c8',type:[2,3],width:1},data:ycMaturities.map(c=>({xAxis:c}))}});
  line('3 kuukautta sitten',xi,yl,yc3m,'#e01818',1,'solid',{symbol:'rect',symbolSize:6,showSymbol:true,z:4});
  line('Julkaisupäivänä',xi,yl,ycNow,'#1010d8',2.5,'solid',{symbol:'circle',symbolSize:6,showSymbol:true,z:5});
  title(222,1103,'Euroalueen tuottokäyrä');
  txt(49,1120,'Government Benchmark Bonds',{fontSize:12,fontWeight:'bold',fontFamily:VF});
  option.graphic.push({type:'text',x:7,y:1250,rotation:Math.PI/2,silent:true,
    style:{text:'Prosenttia',fontSize:10,fontWeight:'bold',fontFamily:F,fill:'#000',align:'center',verticalAlign:'middle'}});
  const lg = {orient:'horizontal',itemWidth:17,itemHeight:8,itemGap:32,padding:0,textStyle:{fontSize:12,fontFamily:F,color:'#000',padding:[0,0,0,2]},selectedMode:false};
  option.legend.push(Object.assign({},lg,{left:48,top:1387,data:['Julkaisupäivänä','6 kuukautta sitten']}));
  option.legend.push(Object.assign({},lg,{left:48,top:1399,data:['3 kuukautta sitten']}));
  source(443,1413,9);
}
// ---- Panel 8 ----
{
  const g=addGrid(542,1120,395,253);
  const xa=yearAxes(g,1999,2010,y=>String(y),8,6,'#a8a8a8');
  const toStep = v => Math.log(v/eurusdBase)/Math.log(eurusdStep);
  const lab = k => Math.abs(k-Math.round(k))<1e-6 ? comma2(eurusdBase*Math.pow(eurusdStep,k)) : '';
  const top = toStep(1.645);
  const yl=addY(g,'left',0,top,1,lab,8,4,true);
  addY(g,'right',0,top,1,lab,8,4,false);
  line('Euro / USD',xa,yl,eurusd.map(p=>[p[0],toStep(p[1])]),'#1a1ad8',1.5,'solid',{z:4});
  title(739,1103,'Euro / USD');
  source(955,1401,8);
}

const chart = echarts.init(document.getElementById('c'), null, {renderer:'canvas', width:960, height:1494});
chart.setOption(option);
</script>
</body></html>
